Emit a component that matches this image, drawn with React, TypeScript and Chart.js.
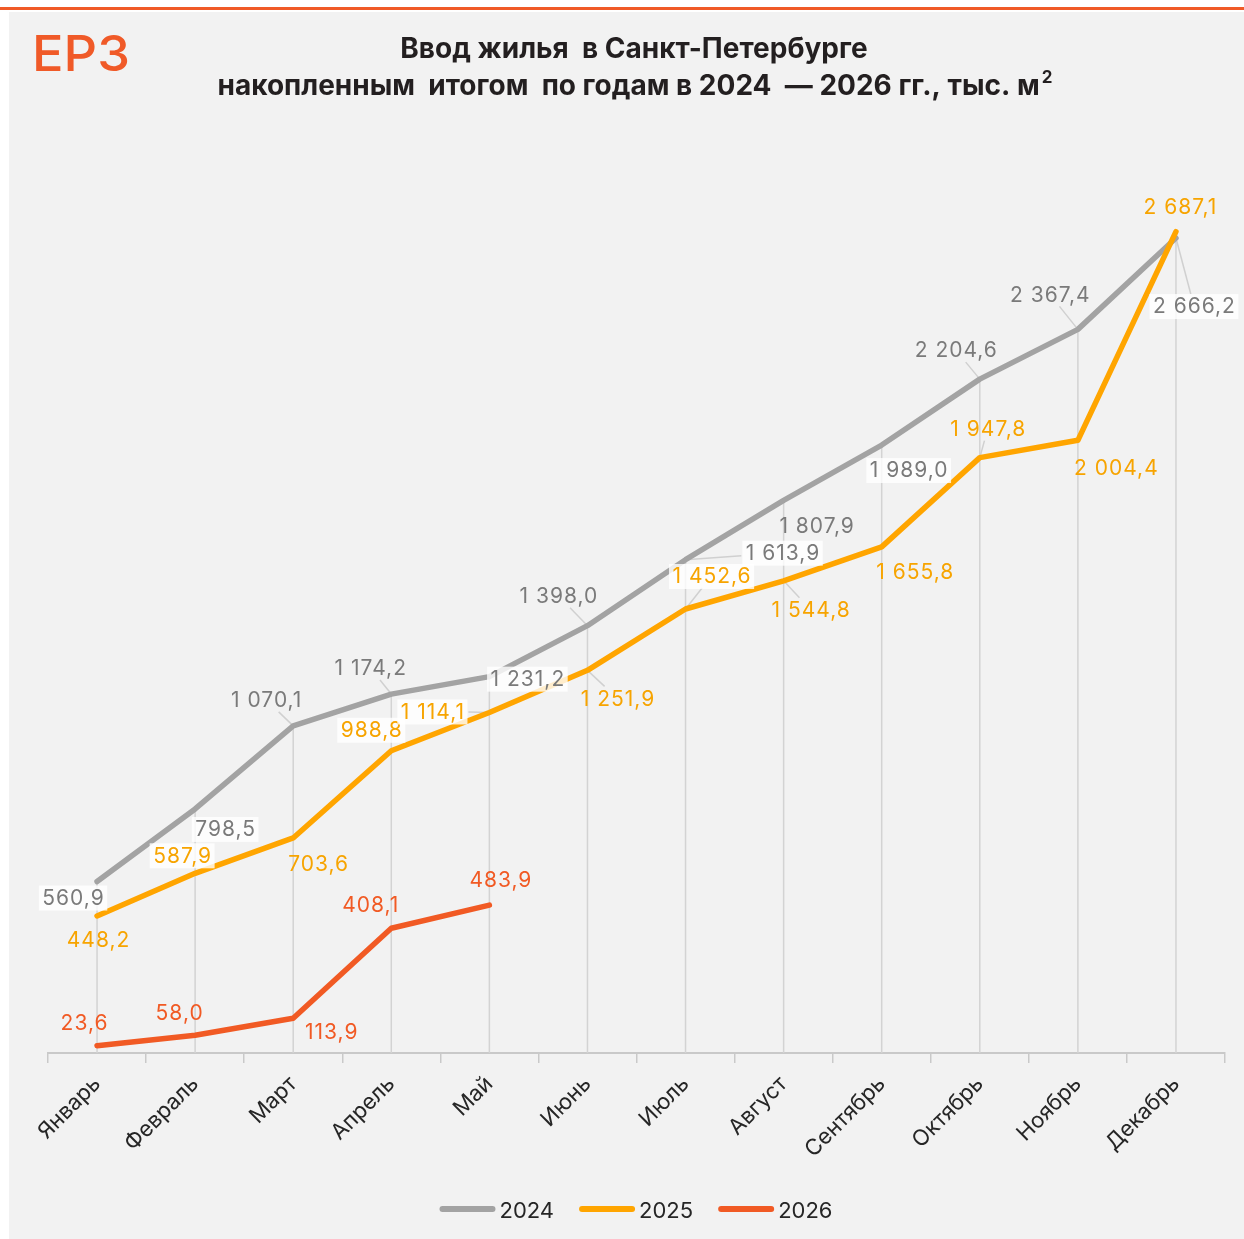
import React, { useEffect, useRef } from "react";
import { Chart, registerables } from "chart.js";

Chart.register(...registerables);

// ---- data ----
const months = [
  "Январь", "Февраль", "Март", "Апрель", "Май", "Июнь",
  "Июль", "Август", "Сентябрь", "Октябрь", "Ноябрь", "Декабрь",
];
const seriesNames = ["2024", "2025", "2026"];
const values2024 = [560.9, 798.5, 1070.1, 1174.2, 1231.2, 1398.0, 1613.9, 1807.9, 1989.0, 2204.6, 2367.4, 2666.2];
const values2025 = [448.2, 587.9, 703.6, 988.8, 1114.1, 1251.9, 1452.6, 1544.8, 1655.8, 1947.8, 2004.4, 2687.1];
const values2026 = [23.6, 58.0, 113.9, 408.1, 483.9];
const titleLine1 = "Ввод жилья  в Санкт-Петербурге";
const titleLine2 = "накопленным  итогом  по годам в 2024  — 2026 гг., тыс. м";
const titleSup = "2";
const logoText = "ЕРЗ";

// ---- styles ----
const lineColors = ["#a3a3a3", "#ffa500", "#f15a24"];
const labelColors = ["#7a7a7a", "#f7a400", "#f15a24"];
const FONT = "Inter, 'Open Sans', sans-serif";
const LABEL_FONT = `21px ${FONT}`;

// label placement: [dx, dy, whiteBox, leaderLine] relative to the point (pixels)
const place2024: [number, number, boolean, boolean][] = [
  [-24, 16, true, false], [30, 20, true, false], [-27, -26, false, true], [-21, -26, false, true],
  [38, 2, true, false], [-29, -30, false, true], [97, -7, true, true], [33, 25, false, false],
  [27, 25, true, false], [-24, -29, false, true], [-28, -35, false, true], [18, 68, true, true],
];
const place2025: [number, number, boolean, boolean][] = [
  [1, 24, false, false], [-13, -18, true, false], [25, 26, false, false], [-20, -21, true, false],
  [-57, -1, true, true], [30, 28, false, true], [26, -33, true, true], [27, 29, false, true],
  [33, 25, false, false], [8, -29, false, true], [38, 27, false, false], [4, -25, false, false],
];
const place2026: [number, number, boolean, boolean][] = [
  [-13, -23, false, false], [-16, -23, false, false], [38, 14, false, false], [-21, -24, false, false],
  [11, -25, false, false],
];
const placements = [place2024, place2025, place2026];

function fmt(v: number): string {
  const [i, d] = v.toFixed(1).split(".");
  const int = i.replace(/\B(?=(\d{3})+(?!\d))/g, " ");
  return int + "," + d;
}

function setSpacing(ctx: any, px: string) {
  try {
    ctx.letterSpacing = px;
  } catch (e) {
    /* ignore */
  }
}

const framePlugin = {
  id: "frame",
  beforeDraw(chart: any) {
    const { ctx, width, height } = chart;
    ctx.save();
    ctx.fillStyle = "#ffffff";
    ctx.fillRect(0, 0, width, height);
    ctx.fillStyle = "#f05a28";
    ctx.fillRect(0, 7, width, 3);
    ctx.fillStyle = "#f2f2f2";
    ctx.fillRect(9, 12, width - 9, height - 12);

    // logo
    ctx.font = `500 50px ${FONT}`;
    ctx.textBaseline = "alphabetic";
    ctx.textAlign = "left";
    const g = ctx.createLinearGradient(0, 35, 0, 71);
    g.addColorStop(0, "#f05a28");
    g.addColorStop(1, "#f8a01c");
    ctx.fillStyle = g;
    const lw = ctx.measureText(logoText).width;
    ctx.save();
    ctx.translate(32, 71);
    ctx.scale(98 / lw, 1);
    ctx.fillText(logoText, 0, 0);
    ctx.restore();

    // title
    ctx.fillStyle = "#231f20";
    ctx.font = `bold 28px ${FONT}`;
    ctx.textBaseline = "middle";
    ctx.textAlign = "center";
    ctx.fillText(titleLine1, 634, 50);
    const w2 = ctx.measureText(titleLine2).width;
    ctx.font = `bold 17px ${FONT}`;
    const ws = ctx.measureText(titleSup).width;
    const x0 = 635 - (w2 + ws + 2) / 2;
    ctx.textAlign = "left";
    ctx.font = `bold 28px ${FONT}`;
    ctx.fillText(titleLine2, x0, 87);
    ctx.font = `bold 17px ${FONT}`;
    ctx.fillText(titleSup, x0 + w2 + 2, 78);

    // legend
    ctx.font = `22px ${FONT}`;
    ctx.textBaseline = "middle";
    const sample = 56, gap = 4, itemGap = 25;
    const widths = seriesNames.map((n) => sample + gap + ctx.measureText(n).width);
    const total = widths.reduce((a, b) => a + b, 0) + itemGap * (seriesNames.length - 1);
    let x = 636 - total / 2;
    const ly = 1209;
    seriesNames.forEach((n, i) => {
      ctx.strokeStyle = lineColors[i];
      ctx.lineWidth = 6;
      ctx.lineCap = "round";
      ctx.beginPath();
      ctx.moveTo(x + 3, ly);
      ctx.lineTo(x + sample - 3, ly);
      ctx.stroke();
      ctx.fillStyle = "#262626";
      ctx.fillText(n, x + sample + gap, ly + 2);
      x += widths[i] + itemGap;
    });
    ctx.restore();
  },
};

const decoPlugin = {
  id: "deco",
  beforeDatasetsDraw(chart: any) {
    const { ctx, chartArea } = chart;
    ctx.save();
    // drop lines
    ctx.strokeStyle = "#d3d3d3";
    ctx.lineWidth = 1.5;
    for (let j = 0; j < months.length; j++) {
      let top = Infinity;
      let xx = 0;
      chart.data.datasets.forEach((ds: any, di: number) => {
        const el = chart.getDatasetMeta(di).data[j];
        if (el && ds.data[j] != null) {
          top = Math.min(top, el.y);
          xx = el.x;
        }
      });
      if (top < Infinity) {
        ctx.beginPath();
        ctx.moveTo(xx, top);
        ctx.lineTo(xx, chartArea.bottom);
        ctx.stroke();
      }
    }
    // leader lines
    ctx.font = LABEL_FONT;
    setSpacing(ctx, "1px");
    ctx.strokeStyle = "#d0d0d0";
    ctx.lineWidth = 1.5;
    chart.data.datasets.forEach((ds: any, di: number) => {
      const meta = chart.getDatasetMeta(di);
      meta.data.forEach((pt: any, j: number) => {
        const v = ds.data[j];
        const p = placements[di][j];
        if (v == null || !p || !p[3]) return;
        const cx = pt.x + p[0], cy = pt.y + p[1];
        const hw = ctx.measureText(fmt(v)).width / 2 + 4;
        const hh = 12;
        const vx = pt.x - cx, vy = pt.y - cy;
        const s = Math.min(vx !== 0 ? hw / Math.abs(vx) : Infinity, vy !== 0 ? hh / Math.abs(vy) : Infinity);
        if (s >= 1) return;
        ctx.beginPath();
        ctx.moveTo(pt.x, pt.y);
        ctx.lineTo(cx + vx * s, cy + vy * s);
        ctx.stroke();
      });
    });
    ctx.restore();
  },
  afterDatasetsDraw(chart: any) {
    const { ctx } = chart;
    ctx.save();
    ctx.font = LABEL_FONT;
    setSpacing(ctx, "1px");
    ctx.textAlign = "center";
    ctx.textBaseline = "middle";
    chart.data.datasets.forEach((ds: any, di: number) => {
      const meta = chart.getDatasetMeta(di);
      meta.data.forEach((pt: any, j: number) => {
        const v = ds.data[j];
        const p = placements[di][j];
        if (v == null || !p) return;
        const cx = pt.x + p[0], cy = pt.y + p[1];
        const text = fmt(v);
        const w = ctx.measureText(text).width;
        if (p[2]) {
          ctx.fillStyle = "rgba(255,255,255,0.8)";
          ctx.fillRect(cx - w / 2 - 3, cy - 12, w + 6, 25);
        }
        ctx.fillStyle = labelColors[di];
        ctx.fillText(text, cx + 0.5, cy + 1);
      });
    });
    ctx.restore();
  },
};

export default function App() {
  const ref = useRef<HTMLCanvasElement | null>(null);
  useEffect(() => {
    if (!ref.current) return;
    const series = [values2024, values2025, values2026];
    const chart = new Chart(ref.current, {
      type: "line",
      data: {
        labels: months,
        datasets: series.map((vals, i) => ({
          label: seriesNames[i],
          data: vals,
          borderColor: lineColors[i],
          backgroundColor: lineColors[i],
          borderWidth: 5.5,
          borderCapStyle: "round" as const,
          borderJoinStyle: "round" as const,
          pointRadius: 0,
          pointHoverRadius: 0,
          tension: 0,
          fill: false,
          order: 3 - i,
        })),
      },
      options: {
        responsive: false,
        devicePixelRatio: 1,
        animation: false,
        layout: { padding: { left: 48, right: 19, top: 136, bottom: 0 } },
        plugins: {
          legend: { display: false },
          title: { display: false },
          tooltip: { enabled: false },
        },
        scales: {
          x: {
            type: "category",
            offset: true,
            grid: {
              display: true,
              offset: true,
              drawOnChartArea: false,
              drawTicks: true,
              tickLength: 10,
              color: "#c9c9c9",
              lineWidth: 1.5,
            },
            border: { display: true, color: "#c9c9c9", width: 2 },
            ticks: {
              color: "#262626",
              font: { family: FONT, size: 22 },
              minRotation: 45,
              maxRotation: 45,
              autoSkip: false,
              padding: 8,
            },
            afterFit: (s: any) => {
              s.height = 186;
            },
          },
          y: { display: false, min: 0, max: 3000 },
        },
      },
      plugins: [framePlugin, decoPlugin],
    });
    return () => chart.destroy();
  }, []);
  return (
    <div style={{ position: "absolute", left: 0, top: 0, width: 1244, height: 1239 }}>
      <canvas ref={ref} width={1244} height={1239} style={{ display: "block" }} />
    </div>
  );
}
